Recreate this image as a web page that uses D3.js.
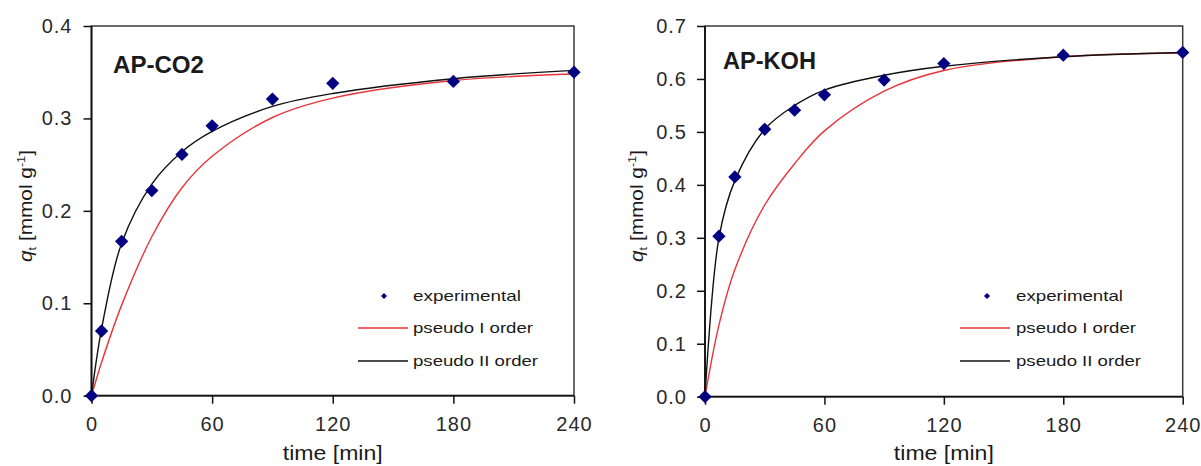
<!DOCTYPE html>
<html><head><meta charset="utf-8">
<script src="https://cdn.jsdelivr.net/npm/d3@7"></script>
<style>
body{margin:0;background:#fff;}
svg{display:block;font-family:"Liberation Sans",Arial,sans-serif;}
</style></head>
<body><svg id="c" width="1201" height="466"></svg>
<script>
// ---- data ----
const timeTicks = [0, 60, 120, 180, 240];
const co2YTicks = [0, 0.1, 0.2, 0.3, 0.4];
const kohYTicks = [0, 0.1, 0.2, 0.3, 0.4, 0.5, 0.6, 0.7];

const co2Time = [0, 5, 15, 30, 45, 60, 90, 120, 180, 240];
const co2Exp  = [0, 0.070, 0.167, 0.222, 0.261, 0.292, 0.321, 0.338, 0.340, 0.350];
const co2P1   = [0, 0.036, 0.098, 0.172, 0.225, 0.259, 0.301, 0.322, 0.341, 0.348];
const co2P2   = [0, 0.072, 0.165, 0.229, 0.264, 0.286, 0.313, 0.327, 0.343, 0.352];

const kohTime = [0, 7, 15, 30, 45, 60, 90, 120, 180, 240];
const kohExp  = [0, 0.303, 0.415, 0.505, 0.541, 0.570, 0.598, 0.629, 0.645, 0.650];
const kohP1   = [0, 0.135, 0.240, 0.362, 0.440, 0.502, 0.577, 0.616, 0.642, 0.649];
const kohP2   = [0, 0.300, 0.408, 0.505, 0.550, 0.579, 0.607, 0.624, 0.642, 0.650];

const legendLabels = ["experimental", "pseudo I order", "pseudo II order"];
const titles = ["AP-CO2", "AP-KOH"];

// ---- drawing ----
const svg = d3.select("#c");
const RED = "#e8343a", NAVY = "#000080";

const panels = [
  {title: titles[0], t: co2Time, exp: co2Exp, p1: co2P1, p2: co2P2, yMax: 0.4, yTicks: co2YTicks,
   x0: 91.5, x1: 574, y0: 395.7, y1: 26, titleX: 113, titleY: 73, titleW: 91,
   yTitleX: 32, legX: 384, legTextX: 413, legLine: [358, 408], legW: [108, 120, 125], pad: 11},
  {title: titles[1], t: kohTime, exp: kohExp, p1: kohP1, p2: kohP2, yMax: 0.7, yTicks: kohYTicks,
   x0: 705, x1: 1182.7, y0: 396.7, y1: 26, titleX: 723, titleY: 69, titleW: 93,
   yTitleX: 643, legX: 987, legTextX: 1016, legLine: [960, 1010], legW: [107, 120, 125], pad: 10}
];

panels.forEach(p => {
  const x = d3.scaleLinear().domain([0, 240]).range([p.x0, p.x1]);
  const y = d3.scaleLinear().domain([0, p.yMax]).range([p.y0, p.y1]);
  const g = svg.append("g");

  // frame (top/right)
  g.append("rect").attr("x", p.x0).attr("y", p.y1).attr("width", p.x1 - p.x0).attr("height", p.y0 - p.y1)
    .attr("fill", "none").attr("stroke", "#3a3a3a").attr("stroke-width", 1.5);

  const yAx = g.append("g").attr("transform", `translate(${p.x0},0)`)
    .call(d3.axisLeft(y).tickValues(p.yTicks).tickFormat(d3.format(".1f")).tickSize(8).tickPadding(p.pad));
  const xAx = g.append("g").attr("transform", `translate(0,${p.y0})`)
    .call(d3.axisBottom(x).tickValues(timeTicks).tickFormat(d3.format("d")).tickSize(8).tickPadding(13));
  [yAx, xAx].forEach(a => {
    a.select(".domain").attr("stroke", "#111").attr("stroke-width", 1.8);
    a.selectAll(".tick line").attr("stroke", "#111").attr("stroke-width", 1.5);
    a.selectAll(".tick text").attr("font-size", 20).attr("fill", "#2a2a2a")
      .attr("font-family", "'Liberation Sans',Arial,sans-serif").style("letter-spacing", "1px");
  });
  xAx.select(".domain").attr("d", `M${p.x0},0H${p.x1}`);
  yAx.select(".domain").attr("d", `M0,${p.y0}V${p.y1}`);

  // lines
  const line = d3.line().x((d, i) => x(p.t[i])).y(d => y(d)).curve(d3.curveCatmullRom.alpha(0.5));
  g.append("path").datum(p.p1).attr("d", line).attr("fill", "none").attr("stroke", RED).attr("stroke-width", 1.4);
  g.append("path").datum(p.p2).attr("d", line).attr("fill", "none").attr("stroke", "#111").attr("stroke-width", 1.4);

  // markers
  const diamond = d3.symbol().type(d3.symbolSquare).size(88);
  g.selectAll(".pt").data(p.exp).enter().append("path")
    .attr("d", diamond).attr("fill", NAVY)
    .attr("transform", (d, i) => `translate(${x(p.t[i])},${y(d)}) rotate(45)`);

  // panel title
  g.append("text").attr("x", p.titleX).attr("y", p.titleY).attr("font-size", 23).attr("font-weight", "bold")
    .attr("fill", "#1a1a1a").attr("textLength", p.titleW).attr("lengthAdjust", "spacingAndGlyphs").text(p.title);

  // axis titles
  g.append("text").attr("x", (p.x0 + p.x1) / 2).attr("y", 460).attr("text-anchor", "middle")
    .attr("font-size", 20).attr("fill", "#1a1a1a").attr("textLength", 100).attr("lengthAdjust", "spacingAndGlyphs")
    .text("time [min]");
  const yt = g.append("text").attr("transform", `translate(${p.yTitleX},206) rotate(-90)`)
    .attr("text-anchor", "middle").attr("font-size", 18).attr("fill", "#1a1a1a")
    .attr("textLength", 112).attr("lengthAdjust", "spacingAndGlyphs");
  yt.append("tspan").attr("font-style", "italic").text("q");
  yt.append("tspan").attr("font-size", 11).attr("dy", 4).text("t");
  yt.append("tspan").attr("dy", -4).text(" [mmol g");
  yt.append("tspan").attr("font-size", 11).attr("dy", -7).text("-1");
  yt.append("tspan").attr("dy", 7).text("]");

  // legend
  const rows = [296, 328, 361];
  g.append("path").attr("d", d3.symbol().type(d3.symbolSquare).size(18)).attr("fill", NAVY)
    .attr("transform", `translate(${p.legX},${rows[0]}) rotate(45)`);
  g.append("line").attr("x1", p.legLine[0]).attr("x2", p.legLine[1]).attr("y1", rows[1]).attr("y2", rows[1])
    .attr("stroke", RED).attr("stroke-width", 1.4);
  g.append("line").attr("x1", p.legLine[0]).attr("x2", p.legLine[1]).attr("y1", rows[2]).attr("y2", rows[2])
    .attr("stroke", "#111").attr("stroke-width", 1.4);
  legendLabels.forEach((lab, i) => {
    g.append("text").attr("x", p.legTextX).attr("y", rows[i] + 5).attr("font-size", 15).attr("fill", "#1a1a1a")
      .attr("textLength", p.legW[i]).attr("lengthAdjust", "spacingAndGlyphs").text(lab);
  });
});
</script></body></html>
